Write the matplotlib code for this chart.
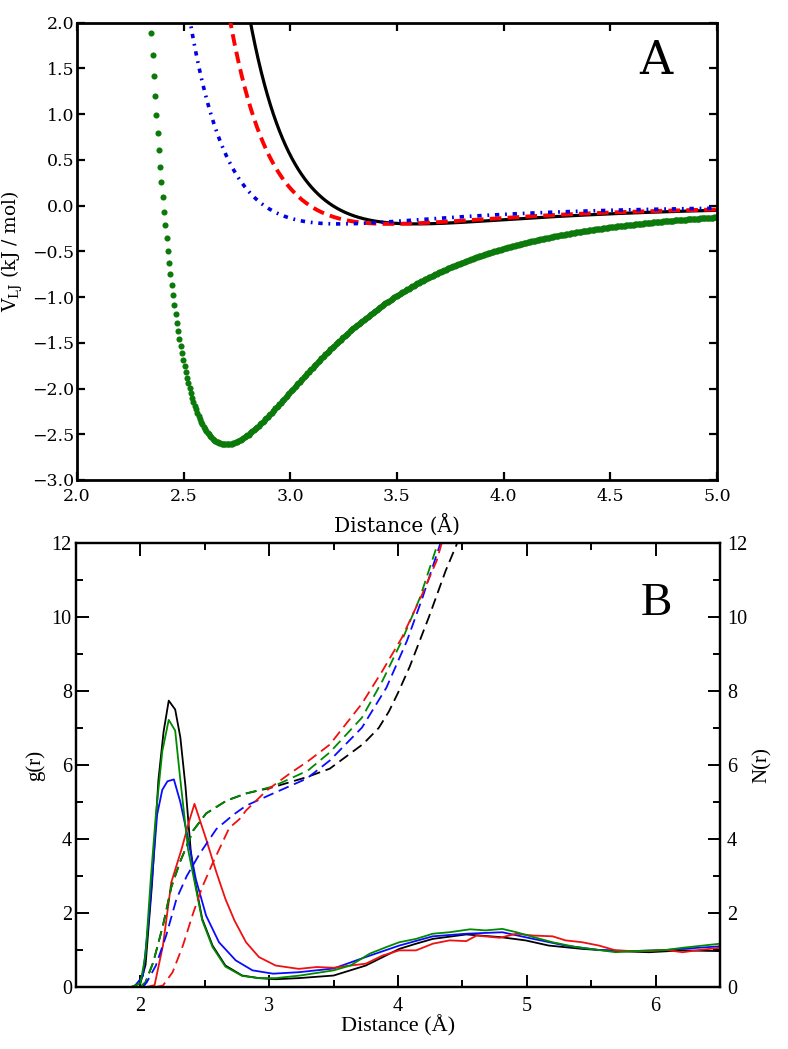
import numpy as np
import matplotlib
matplotlib.use("Agg")
import matplotlib.pyplot as plt
from matplotlib.ticker import MultipleLocator

plt.rcParams['mathtext.fontset'] = 'dejavuserif'

# ---------------- Panel A: Lennard-Jones potentials (parameters)
lj_names = ["black", "red", "blue", "green"]
lj_rmin = [3.59, 3.47, 3.23, 2.70]      # position of minimum (Å)
lj_eps = [0.20, 0.20, 0.20, 2.61]       # well depth (kJ/mol)

# ---------------- Panel B: g(r) (solid) and N(r) (dashed)
black_g_r = [1.93, 2.00, 2.04, 2.09, 2.14, 2.18, 2.22, 2.27, 2.31, 2.35, 2.39, 2.42, 2.48, 2.56, 2.66,
             2.79, 2.92, 3.05, 3.23, 3.50, 3.75, 4.01, 4.14, 4.27, 4.53, 4.79, 4.99, 5.17, 5.43,
             5.69, 5.95, 6.21, 6.50]
black_g = [0.0, 0.1, 0.6, 2.77, 5.6, 6.9, 7.74, 7.5, 6.75, 5.42, 3.72, 2.92, 1.84, 1.12, 0.58,
           0.31, 0.24, 0.21, 0.24, 0.31, 0.58, 1.03, 1.17, 1.30, 1.42, 1.35, 1.26, 1.12, 1.03,
           0.97, 0.94, 0.99, 0.97]

green_g_r = [1.93, 2.00, 2.04, 2.08, 2.12, 2.17, 2.22, 2.27, 2.31, 2.37, 2.42, 2.48, 2.56, 2.66,
             2.79, 2.92, 3.05, 3.24, 3.50, 3.63, 3.78, 3.91, 4.01, 4.14, 4.27, 4.40, 4.56, 4.68,
             4.81, 4.92, 5.05, 5.20, 5.38, 5.56, 5.69, 5.82, 6.08, 6.21, 6.50]
green_g = [0.0, 0.1, 0.88, 2.9, 4.66, 6.37, 7.22, 6.93, 5.6, 3.72, 2.85, 1.8, 1.08, 0.55,
           0.30, 0.24, 0.24, 0.31, 0.45, 0.58, 0.90, 1.08, 1.21, 1.30, 1.44, 1.48, 1.56, 1.53,
           1.57, 1.48, 1.35, 1.21, 1.08, 1.00, 0.94, 0.97, 1.00, 1.06, 1.17]

blue_g_r = [1.95, 2.02, 2.065, 2.13, 2.17, 2.21, 2.26, 2.31, 2.36, 2.43, 2.51, 2.61, 2.74, 2.87,
            3.03, 3.23, 3.50, 3.75, 4.01, 4.27, 4.53, 4.81, 5.05, 5.30, 5.56, 5.82, 6.08, 6.50]
blue_g = [0.0, 0.3, 1.83, 4.66, 5.33, 5.56, 5.61, 5.0, 4.18, 2.92, 1.93, 1.21, 0.72, 0.45,
          0.36, 0.40, 0.50, 0.81, 1.12, 1.37, 1.44, 1.48, 1.30, 1.12, 1.00, 0.97, 1.00, 1.10]

red_g_r = [2.05, 2.11, 2.175, 2.24, 2.32, 2.38, 2.42, 2.51, 2.59, 2.66, 2.73, 2.82, 2.92, 3.05,
           3.23, 3.37, 3.50, 3.63, 3.75, 3.88, 4.01, 4.14, 4.27, 4.40, 4.53, 4.61, 4.79, 4.92,
           5.05, 5.20, 5.30, 5.43, 5.56, 5.69, 5.82, 5.95, 6.08, 6.21, 6.34, 6.50]
red_g = [0.0, 0.05, 1.12, 2.83, 3.73, 4.5, 4.95, 4.0, 3.1, 2.38, 1.8, 1.21, 0.81, 0.58,
         0.49, 0.54, 0.52, 0.58, 0.63, 0.85, 0.99, 0.99, 1.17, 1.26, 1.24, 1.39, 1.33, 1.44,
         1.39, 1.37, 1.26, 1.21, 1.12, 0.99, 0.97, 0.97, 1.00, 0.94, 1.00, 1.06]

black_n_r = [2.00, 2.04, 2.10, 2.175, 2.24, 2.31, 2.41, 2.51, 2.67, 2.82, 3.03, 3.29, 3.47, 3.73,
             3.85, 3.93, 4.00, 4.09, 4.24, 4.37, 4.46]
black_n = [0.0, 0.13, 0.67, 1.66, 2.7, 3.4, 4.23, 4.69, 5.04, 5.23, 5.40, 5.67, 5.90, 6.57,
           7.00, 7.45, 7.95, 8.65, 10.0, 11.25, 12.0]

green_n_r = [2.00, 2.04, 2.10, 2.175, 2.24, 2.31, 2.41, 2.51, 2.67, 2.82, 3.03, 3.30, 3.47, 3.72,
             3.88, 4.03, 4.17, 4.31]
green_n = [0.0, 0.13, 0.67, 1.66, 2.7, 3.4, 4.23, 4.69, 5.04, 5.23, 5.42, 5.85, 6.34, 7.28,
           8.28, 9.36, 10.52, 12.0]

blue_n_r = [2.02, 2.05, 2.12, 2.20, 2.28, 2.36, 2.46, 2.59, 2.72, 2.82, 3.03, 3.29, 3.47, 3.72,
            3.91, 4.07, 4.19, 4.33]
blue_n = [0.0, 0.13, 0.58, 1.39, 2.38, 3.0, 3.6, 4.27, 4.65, 4.9, 5.23, 5.63, 6.12, 7.01,
          8.09, 9.36, 10.52, 12.0]

red_n_r = [2.12, 2.175, 2.25, 2.33, 2.41, 2.48, 2.56, 2.69, 2.77, 2.82, 2.98, 3.16, 3.30, 3.47,
           3.72, 3.88, 4.03, 4.19, 4.30, 4.34]
red_n = [0.0, 0.04, 0.4, 1.12, 2.0, 2.7, 3.34, 4.3, 4.54, 4.77, 5.31, 5.77, 6.1, 6.55,
         7.66, 8.55, 9.44, 10.63, 11.52, 12.0]

W, H = 788, 1049
fig = plt.figure(figsize=(W / 100, H / 100), dpi=100)

# ================= Panel A =================
axA = fig.add_axes([77 / W, 1 - 480 / H, 640 / W, 457.3 / H])
serifA = 'DejaVu Serif'


def lj(r, rm, eps):
    q = (rm / r) ** 6
    return eps * (q * q - 2 * q)


r_line = np.linspace(2.3, 5.0, 1500)
styles = {
    "black": dict(color='black', lw=2.3, ls='-'),
    "red": dict(color='#ff0000', lw=2.8, ls=(0, (3.0, 1.6))),
    "blue": dict(color='#0000e6', lw=2.6, ls=(0, (1.2, 1.6, 0.5, 1.6))),
}
for name, rm, eps in zip(lj_names, lj_rmin, lj_eps):
    if name == "green":
        r_pts = np.arange(2.30, 5.0001, 0.006)
        axA.plot(r_pts, lj(r_pts, rm, eps), ls='none', marker='o', ms=4.4,
                 color='#0b7a0b', mec='none', zorder=2)
    else:
        axA.plot(r_line, lj(r_line, rm, eps), zorder=3, **styles[name])

axA.set_xlim(2.0, 5.0)
axA.set_ylim(-3.0, 2.0)
axA.xaxis.set_major_locator(MultipleLocator(0.5))
axA.yaxis.set_major_locator(MultipleLocator(0.5))
axA.tick_params(direction='in', length=6, width=1.6, top=True, right=True,
                labelsize=12.5, pad=2)
axA.tick_params(axis='x', pad=6)
for lab in axA.get_xticklabels() + axA.get_yticklabels():
    lab.set_family(serifA)
for s in axA.spines.values():
    s.set_linewidth(2.0)
axA.set_xlabel('Distance (Å)', family=serifA, fontsize=14.5)
axA.xaxis.set_label_coords(0.5, -0.074)
axA.xaxis.label.set_va('top')
axA.set_ylabel(r'V$_{\rm LJ}$ (kJ / mol)', family=serifA, fontsize=13.5)
axA.yaxis.set_label_coords(-0.082, 0.5)
axA.text(0.905, 0.915, 'A', transform=axA.transAxes, family=serifA, fontsize=33,
         ha='center', va='center')

# ================= Panel B =================
serifB = 'Liberation Serif'
axB = fig.add_axes([76 / W, 1 - 987 / H, 644 / W, 444 / H])
axN = axB.twinx()

lw_b = 1.3
dash_b = (0, (6.0, 3.2))
axN.plot(black_n_r, black_n, color='black', lw=lw_b, ls=dash_b)
axN.plot(green_n_r, green_n, color='#008a00', lw=lw_b, ls=dash_b)
axN.plot(blue_n_r, blue_n, color='#0a0aff', lw=lw_b, ls=dash_b)
axN.plot(red_n_r, red_n, color='#f01010', lw=lw_b, ls=dash_b)

axB.plot(black_g_r, black_g, color='black', lw=lw_b)
axB.plot(blue_g_r, blue_g, color='#0a0aff', lw=lw_b)
axB.plot(red_g_r, red_g, color='#f01010', lw=lw_b)
axB.plot(green_g_r, green_g, color='#008a00', lw=lw_b)

for ax in (axB, axN):
    ax.set_xlim(1.5, 6.5)
    ax.set_ylim(0, 12)
    ax.yaxis.set_major_locator(MultipleLocator(2))
    ax.yaxis.set_minor_locator(MultipleLocator(1))
axB.xaxis.set_major_locator(MultipleLocator(1))
axB.xaxis.set_minor_locator(MultipleLocator(0.5))
axB.set_xticks([2, 3, 4, 5, 6])

axB.tick_params(which='major', direction='in', length=9, width=1.4, top=True, right=False,
                labelsize=14.5)
axB.tick_params(which='minor', direction='in', length=5, width=1.4, top=True, right=False)
axB.tick_params(axis='x', pad=7)
axB.tick_params(axis='y', pad=3)
axN.tick_params(which='major', direction='in', length=9, width=1.4, labelsize=14.5, pad=5)
axN.tick_params(which='minor', direction='in', length=5, width=1.4)
for ax in (axB, axN):
    for lab in ax.get_xticklabels() + ax.get_yticklabels():
        lab.set_family(serifB)
    for s in ax.spines.values():
        s.set_linewidth(1.6)

axB.set_xlabel('Distance (Å)', family=serifB, fontsize=16)
axB.xaxis.set_label_coords(0.5, -0.063)
axB.xaxis.label.set_va('top')
axB.set_ylabel('g(r)', family=serifB, fontsize=15)
axB.yaxis.set_label_coords(-0.048, 0.5)
axN.set_ylabel('N(r)', family=serifB, fontsize=15)
axN.yaxis.set_label_coords(1.05, 0.5)
axB.text(0.901, 0.863, 'B', transform=axB.transAxes, family=serifB, fontsize=34,
         ha='center', va='center')

fig.savefig('out.png', dpi=100)
